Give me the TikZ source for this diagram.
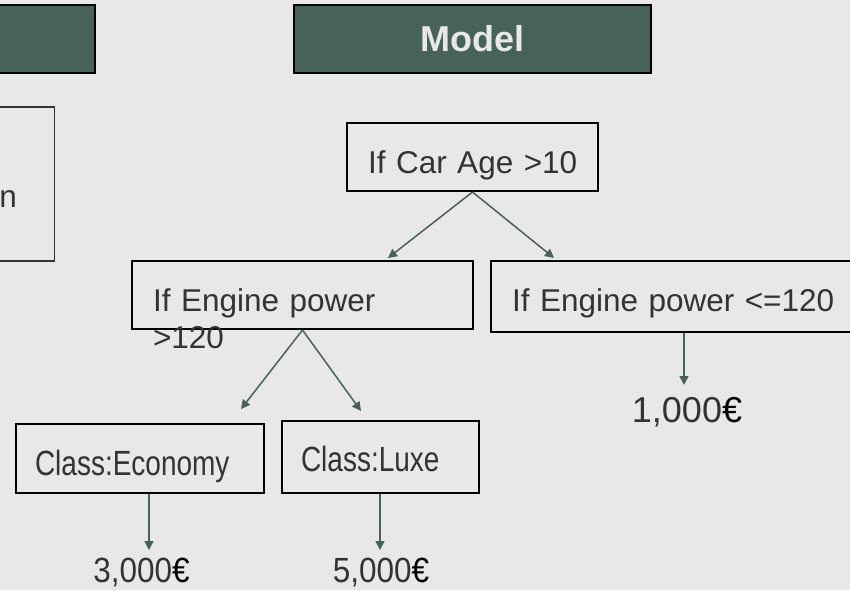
\documentclass[tikz,border=0pt]{standalone}
\usepackage{fontspec}
\usepackage{graphicx}
\setmainfont{Liberation Sans}
\usetikzlibrary{arrows.meta,positioning}
\definecolor{sage}{HTML}{476257}
\definecolor{paper}{HTML}{E8E8E8}
\definecolor{ink}{HTML}{333333}
\tikzstyle{every node}=[font=\fontsize{31.5}{37.8}\selectfont,text=ink]
\tikzset{
  head/.style={draw=black,line width=2pt,fill=sage,minimum height=68pt,inner sep=0pt},
  box/.style={draw=black,line width=2pt,inner xsep=21pt,inner ysep=0pt,align=left,
    text height=50pt,text depth=18pt,anchor=north west},
  link/.style={sage,line width=1.5pt,-{Triangle[length=9pt,width=9pt]}},
  price/.style={font=\fontsize{36}{40}\selectfont,anchor=base}
}
\newcommand{\narrow}[2]{\scalebox{#1}[1]{#2}}

\begin{document}
\begin{tikzpicture}[x=1pt,y=-1pt]
\fill[paper] (0,0) rectangle (850,590);
\useasboundingbox (0,0) rectangle (850,590);
\node[head,minimum width=120pt,anchor=north east] (data) at (96,4) {};
\node[head,minimum width=357pt,anchor=north west,text=paper,
  font=\bfseries\fontsize{36}{40}\selectfont] (model) at (293,4) {Model};
\node[draw=ink,line width=1.5pt,minimum width=255pt,minimum height=154pt,
  anchor=north east] (info) at (55,106) {};
\node[anchor=base east,inner xsep=0pt] (infotxt) at (17,207) {n};
\node[box,text width=209pt] (carage) at (346,122) {\mbox{If Car Age >10}};
\node[box,text width=299pt] (powhigh) at (131,260) {If Engine power\\>120};
\node[box,text width=320pt,text depth=21pt] (powlow) at (490,260) {\mbox{If Engine power <=120}};
\node[box,text width=210pt,text height=51pt,inner xsep=19pt,font=\fontsize{35}{40}\selectfont] (economy) at (15,423) {\narrow{0.8}{Class:Economy}};
\node[box,text width=159pt,text depth=22pt,inner xsep=19pt,font=\fontsize{35}{40}\selectfont] (luxe) at (281,420) {\narrow{0.8}{Class:Luxe}};
\node[price] (p1000) at (687,422) {1,000{\color{black}€}};
\node[price,font=\fontsize{35}{40}\selectfont] (p3000) at (141.5,582) {\narrow{0.9}{3,000{\color{black}€}}};
\node[price,font=\fontsize{35}{40}\selectfont] (p5000) at (381,582) {\narrow{0.9}{5,000{\color{black}€}}};
\coordinate (carL) at (388,258);
\coordinate (carR) at (554,258);
\coordinate (powL) at (241,409);
\coordinate (powR) at (361,411);
\coordinate (lowE) at (684,385);
\coordinate (ecoE) at (149,550);
\coordinate (luxeE) at (380,550);
\draw[link] (carage.south) -- (carL);
\draw[link] (carage.south) -- (carR);
\draw[link] (powhigh.south) -- (powL);
\draw[link] (powhigh.south) -- (powR);
\draw[link] (powlow.south -| lowE) -- (lowE);
\draw[link] (economy.south -| ecoE) -- (ecoE);
\draw[link] (luxe.south -| luxeE) -- (luxeE);
\end{tikzpicture}
\end{document}
